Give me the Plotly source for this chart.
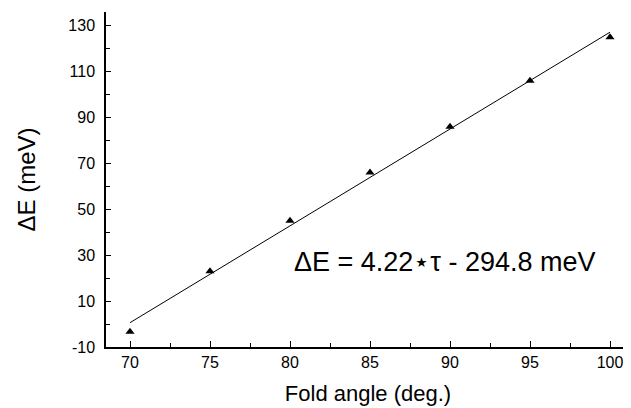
import plotly.graph_objects as go

fold_angle = [70, 75, 80, 85, 90, 95, 100]
delta_e = [-3.3, 23, 45, 66, 86, 106, 125]
fit_x = [70, 100]
fit_y = [0.6, 127.2]
x_ticks = [70, 75, 80, 85, 90, 95, 100]
y_ticks = [-10, 10, 30, 50, 70, 90, 110, 130]
y_tick_labels = ["-10", "10", "30", "50", "70", "90", "110", "130"]

font_family = "Liberation Sans, Arial, sans-serif"

fig = go.Figure()
fig.add_trace(go.Scatter(x=fit_x, y=fit_y, mode="lines",
                         line=dict(color="black", width=1), showlegend=False))
fig.add_trace(go.Scatter(x=fold_angle, y=delta_e, mode="markers",
                         marker=dict(symbol="triangle-up", size=8, color="black"),
                         showlegend=False))

fig.add_annotation(x=0.647, y=0.254, xref="paper", yref="paper",
                   xanchor="center", yanchor="middle",
                   text="ΔE = 4.22⋆τ - 294.8 meV", showarrow=False,
                   font=dict(size=27, color="black", family=font_family))

# page body has an 8px default margin, so the figure is sized/offset to compensate
fig.update_layout(
    width=623, height=400,
    margin=dict(l=98, r=1, t=4, b=61),
    plot_bgcolor="white", paper_bgcolor="white",
    font=dict(family=font_family, color="black", size=16),
    xaxis=dict(range=[68.5, 101.25], tickvals=x_ticks, ticks="inside", ticklen=6,
               tickcolor="black", showline=True, linecolor="black", linewidth=1.5,
               showgrid=False, zeroline=False, automargin=False,
               minor=dict(ticks="inside", dtick=2.5, tick0=70, ticklen=4, tickcolor="black", showgrid=False),
               title=dict(text="Fold angle (deg.)", font=dict(size=22), standoff=16)),
    yaxis=dict(range=[-10, 136], tickvals=y_ticks, ticktext=y_tick_labels,
               ticks="inside", ticklen=5,
               tickcolor="black", showline=True, linecolor="black", linewidth=1.5,
               showgrid=False, zeroline=False, automargin=False, ticklabelstandoff=6,
               minor=dict(ticks="inside", dtick=10, tick0=0, ticklen=4, tickcolor="black", showgrid=False),
               title=dict(text="ΔE (meV)", font=dict(size=24), standoff=26)),
)

fig.write_html("out.html")
